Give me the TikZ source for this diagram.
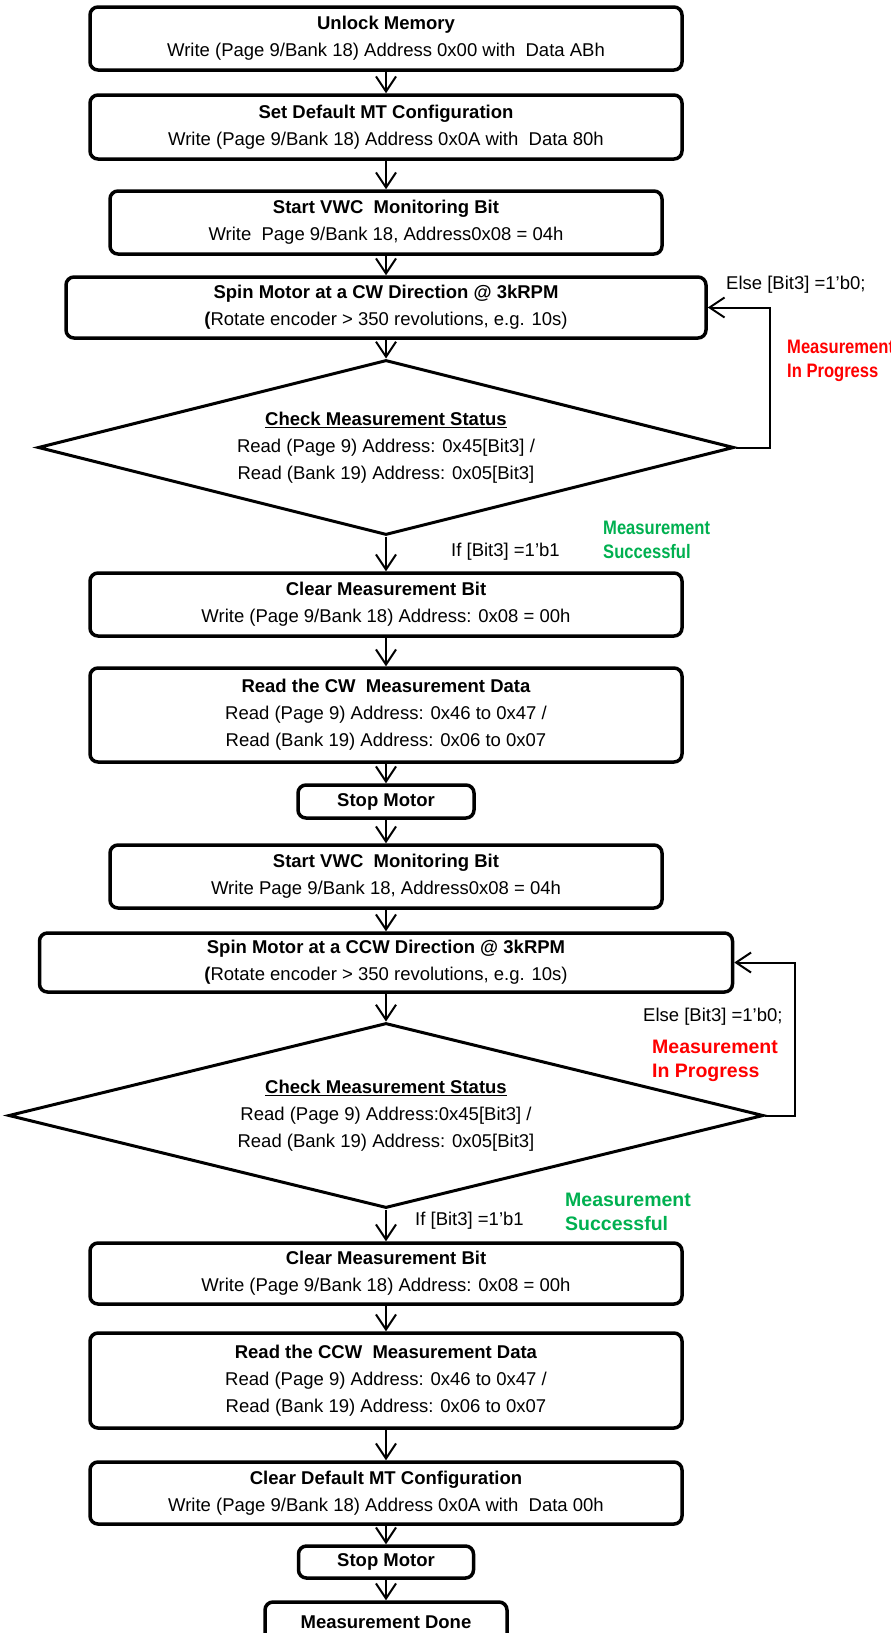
\documentclass[tikz,border=0pt]{standalone}
\usepackage{fontspec}
\setmainfont{Liberation Sans}
\newfontfamily\narrowsans{Liberation Sans}[FakeStretch=0.85]
\usetikzlibrary{arrows.meta,shapes.geometric}
\definecolor{busyred}{RGB}{255,0,0}
\definecolor{okgreen}{RGB}{0,176,80}
\begin{document}
\begin{tikzpicture}[x=1pt,y=-1pt,
  every node/.style={font=\fontsize{18.5}{27}\selectfont},
  proc/.style={draw, line width=3.5pt, rounded corners=8pt, align=center, inner sep=0pt},
  check/.style={draw, diamond, line width=3pt, align=center, inner sep=0pt, aspect=4},
  flow/.style={line width=2pt, -{Straight Barb[length=15pt,width=20pt]}},
  note/.style={anchor=west, inner sep=0pt, align=left},
  status/.style={note, font=\fontsize{19.5}{24}\selectfont\bfseries},
  narrowstatus/.style={note, font=\fontsize{19.5}{24}\selectfont\narrowsans\bfseries},
]
\useasboundingbox (0,0) rectangle (891,1633);

% ---- CW pass ----
\node[proc, minimum width=592pt, minimum height=63pt] (b1) at (386,38.5)
  {\textbf{Unlock Memory}\\Write (Page 9/Bank 18) Address 0x00 with\ \ Data ABh};
\node[proc, minimum width=592pt, minimum height=64pt] (b2) at (386,127)
  {\textbf{Set Default MT Configuration}\\Write (Page 9/Bank 18) Address 0x0A with\ \ Data 80h};
\node[proc, minimum width=552pt, minimum height=63pt] (b3) at (386,222.5)
  {\textbf{Start VWC\ \ Monitoring Bit}\\Write\ \ Page 9/Bank 18, Address0x08 =\ 04h};
\node[proc, minimum width=640pt, minimum height=61pt] (b4) at (386,307.5)
  {\textbf{Spin Motor at a CW Direction @ 3kRPM}\\\textbf{(}Rotate encoder > 350 revolutions, e.g. 10s)};
\node[check, minimum width=696pt, minimum height=175pt] (d1) at (386,447.5)
  {\textbf{\underline{Check Measurement Status}}\\Read (Page 9) Address: 0x45[Bit3] /\\Read (Bank 19) Address: 0x05[Bit3]};
\node[proc, minimum width=592pt, minimum height=63pt] (b5) at (386,604.5)
  {\textbf{Clear Measurement Bit}\\Write (Page 9/Bank 18) Address: 0x08 = 00h};
\node[proc, minimum width=592pt, minimum height=94pt] (b6) at (386,715)
  {\textbf{Read the CW\ \ Measurement Data}\\Read (Page 9) Address: 0x46 to 0x47 /\\Read (Bank 19) Address: 0x06 to 0x07};
\node[proc, minimum width=176pt, minimum height=33pt] (b7) at (386,801.5)
  {\textbf{Stop Motor}};

% ---- CCW pass ----
\node[proc, minimum width=552pt, minimum height=63pt] (b8) at (386,876.5)
  {\textbf{Start VWC\ \ Monitoring Bit}\\Write Page 9/Bank 18, Address0x08 =\ 04h};
\node[proc, minimum width=693pt, minimum height=59pt] (b9) at (386,962.5)
  {\textbf{Spin Motor at a CCW Direction @ 3kRPM}\\\textbf{(}Rotate encoder > 350 revolutions, e.g. 10s)};
\node[check, minimum width=755pt, minimum height=185pt] (d2) at (386,1115.5)
  {\textbf{\underline{Check Measurement Status}}\\Read (Page 9) Address:0x45[Bit3] /\\Read (Bank 19) Address: 0x05[Bit3]};
\node[proc, minimum width=592pt, minimum height=61pt] (b10) at (386,1273.5)
  {\textbf{Clear Measurement Bit}\\Write (Page 9/Bank 18) Address: 0x08 = 00h};
\node[proc, minimum width=592pt, minimum height=95pt] (b11) at (386,1380.5)
  {\textbf{Read the CCW\ \ Measurement Data}\\Read (Page 9) Address: 0x46 to 0x47 /\\Read (Bank 19) Address: 0x06 to 0x07};
\node[proc, minimum width=592pt, minimum height=62pt] (b12) at (386,1493)
  {\textbf{Clear Default MT Configuration}\\Write (Page 9/Bank 18) Address 0x0A with\ \ Data 00h};
\node[proc, minimum width=175pt, minimum height=32pt] (b13) at (386,1562)
  {\textbf{Stop Motor}};
\node[proc, minimum width=242pt, minimum height=40pt] (b14) at (386,1622)
  {\textbf{Measurement Done}};

% ---- main flow ----
\foreach \a/\b in {b1/b2, b2/b3, b3/b4, b4/d1, d1/b5, b5/b6, b6/b7, b7/b8,
                   b8/b9, b9/d2, d2/b10, b10/b11, b11/b12, b12/b13, b13/b14}
  \draw[flow] (\a.south) -- (\b.north);

% ---- retry loops ----
\draw[flow] (d1.east) -- ++(34,0) |- (b4.east);
\draw[flow] (d2.east) -- ++(30,0) |- (b9.east);

% ---- branch labels ----
\node[note] (else1) at (726,285) {Else [Bit3] =1’b0;};
\node[narrowstatus, text=busyred] (busy1) at (787,361) {Measurement\\In Progress};
\node[narrowstatus, text=okgreen] (ok1) at (603,540) {Measurement\\Successful};
\node[note] (if1) at (451,552) {If [Bit3] =1’b1};

\node[note] (else2) at (643,1017) {Else [Bit3] =1’b0;};
\node[status, text=busyred] (busy2) at (652,1060.5) {Measurement\\In Progress};
\node[status, text=okgreen] (ok2) at (565,1212) {Measurement\\Successful};
\node[note] (if2) at (415,1221) {If [Bit3] =1’b1};
\end{tikzpicture}
\end{document}
